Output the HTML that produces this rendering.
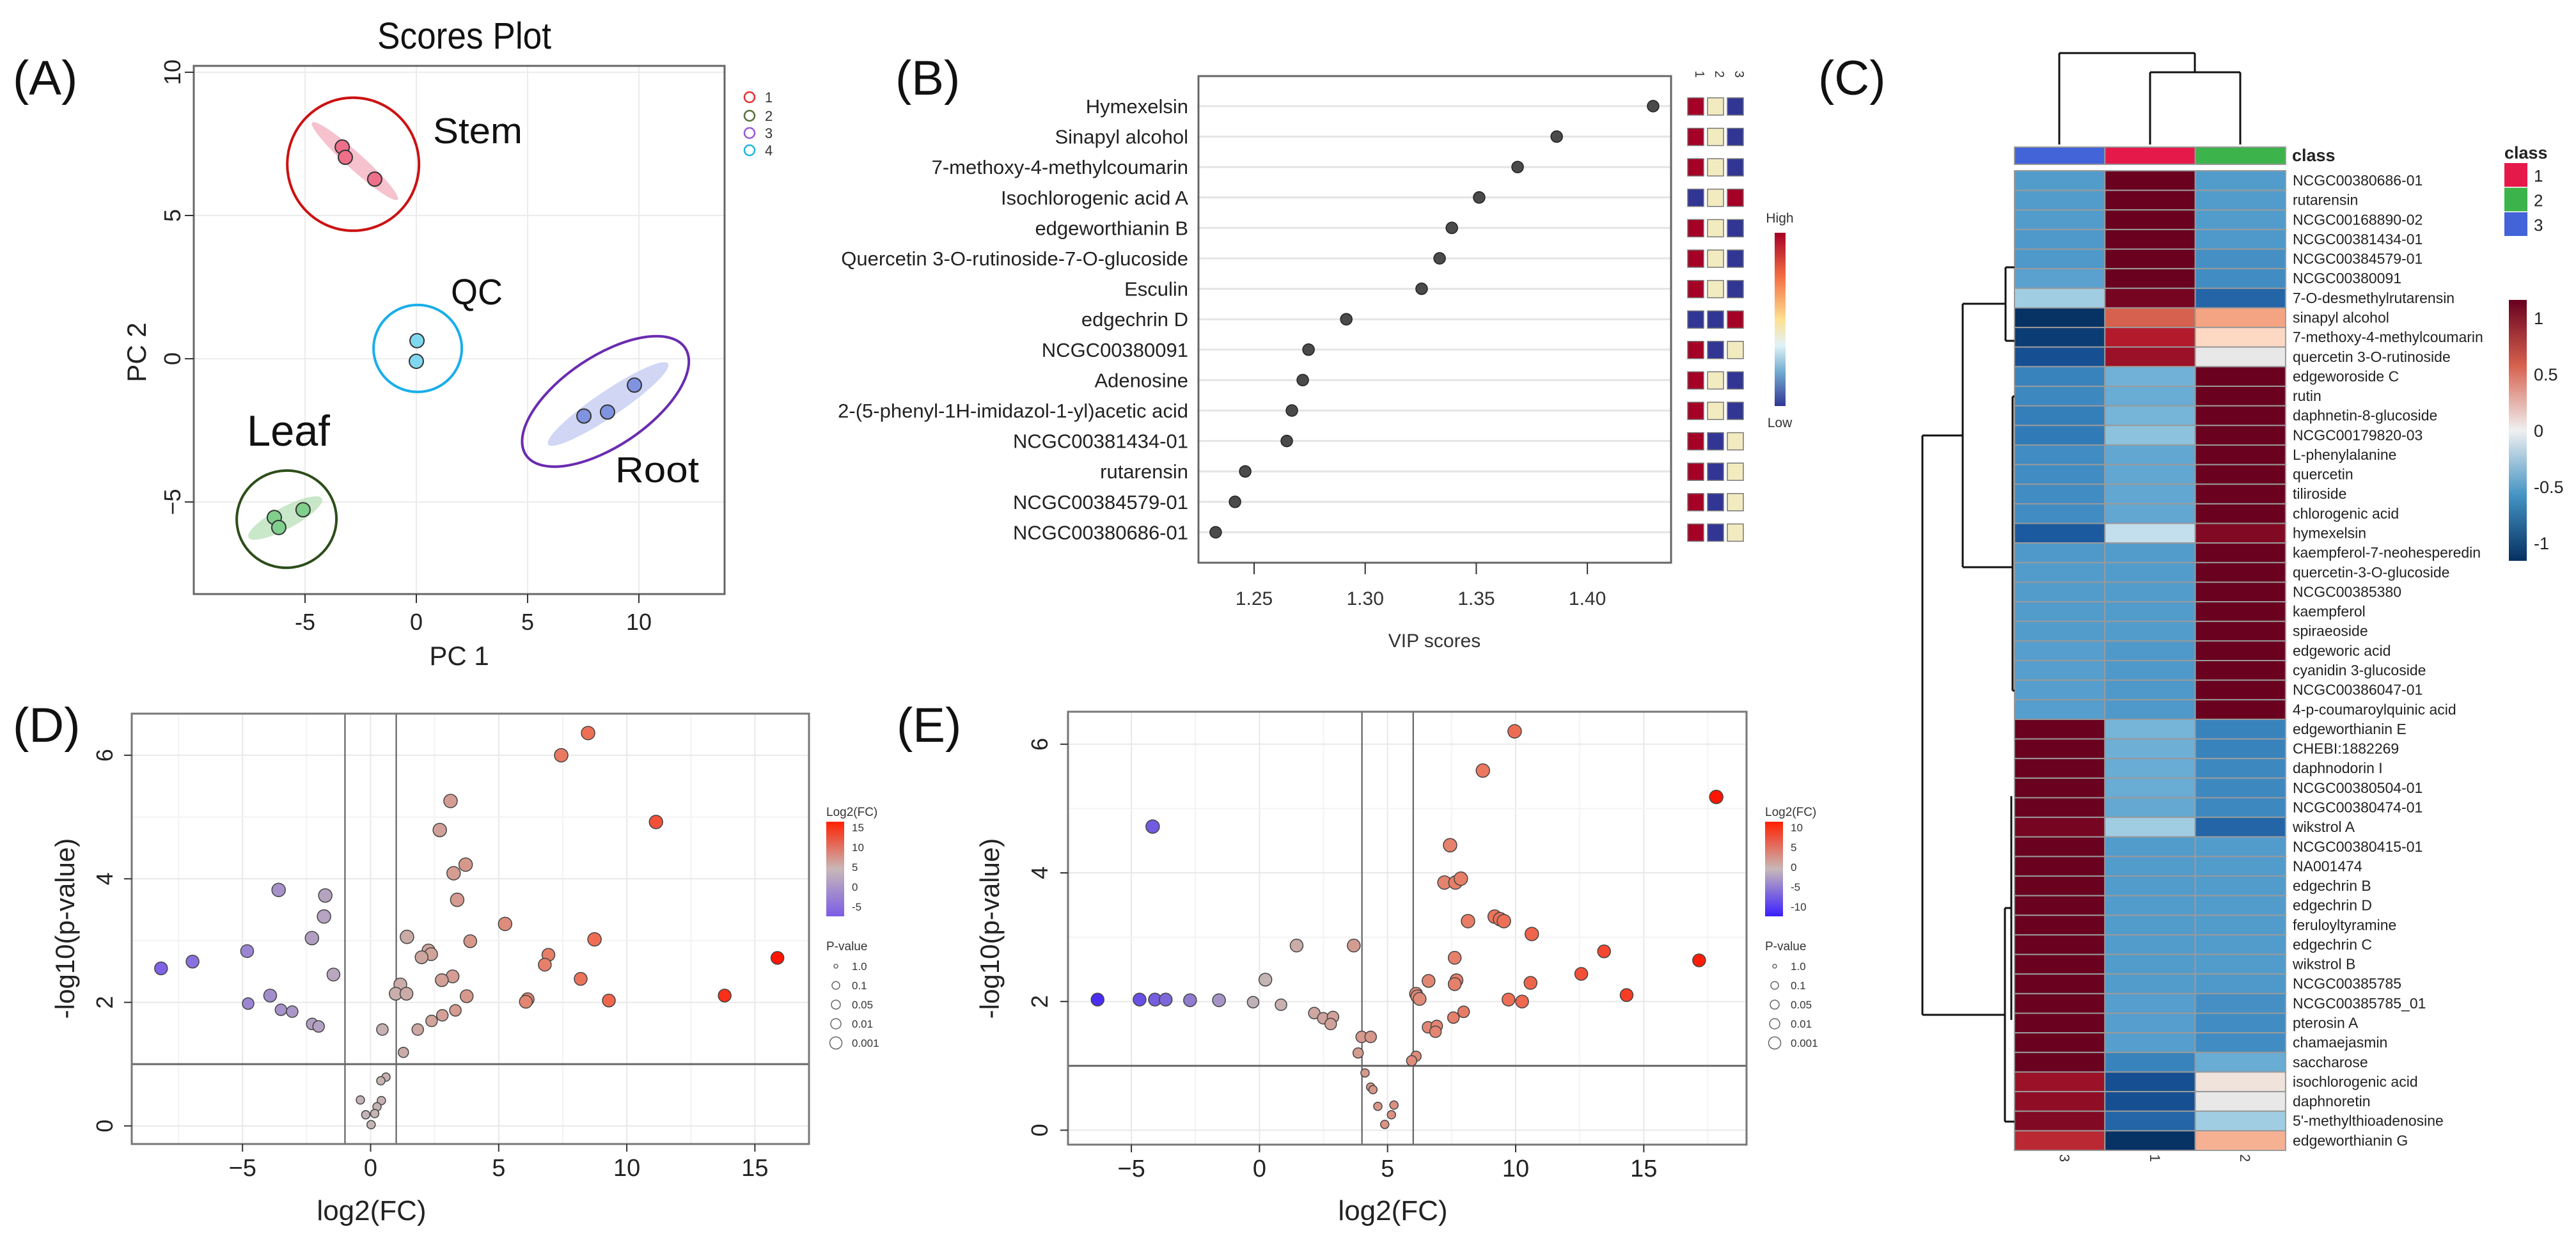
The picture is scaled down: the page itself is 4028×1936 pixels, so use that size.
<!DOCTYPE html>
<html><head><meta charset="utf-8"><style>
html,body{margin:0;padding:0;background:#fff;}
svg{display:block;font-family:"Liberation Sans Narrow","Liberation Sans",sans-serif;}
</style></head><body>
<svg id="fig" xmlns="http://www.w3.org/2000/svg" width="4028" height="1936" viewBox="0 0 4028 1936">
<defs>
<linearGradient id="gB" x1="0" y1="0" x2="0" y2="1"><stop offset="0" stop-color="#a50026"/><stop offset="0.25" stop-color="#f46d43"/><stop offset="0.5" stop-color="#fee090"/><stop offset="0.65" stop-color="#e0f3f8"/><stop offset="0.8" stop-color="#74add1"/><stop offset="1" stop-color="#313695"/></linearGradient>
<linearGradient id="gC" x1="0" y1="0" x2="0" y2="1"><stop offset="0" stop-color="#67001f"/><stop offset="0.25" stop-color="#d6604d"/><stop offset="0.5" stop-color="#f0f0f0"/><stop offset="0.75" stop-color="#4393c3"/><stop offset="1" stop-color="#053061"/></linearGradient>
<linearGradient id="gD" x1="0" y1="0" x2="0" y2="1"><stop offset="0" stop-color="#ff2000"/><stop offset="0.5" stop-color="#c8b8b8"/><stop offset="1" stop-color="#7b5ce6"/></linearGradient>
<linearGradient id="gE" x1="0" y1="0" x2="0" y2="1"><stop offset="0" stop-color="#ff2000"/><stop offset="0.5" stop-color="#c8b8b8"/><stop offset="1" stop-color="#3a1fff"/></linearGradient>
</defs>
</svg>
<script>
// ---------- DATA ----------
const pcaX = [-3.33,-3.19,-1.87, 0.03,0.0, 7.53,8.59,9.8, -6.38,-6.18,-5.09];
const pcaY = [7.39,7.03,6.27, 0.63,-0.09, -2.0,-1.86,-0.92, -5.54,-5.89,-5.27];
const pcaGroup = [0,0,0,1,1,2,2,2,3,3,3];
const groupNames = ["Stem","QC","Root","Leaf"];
const ellCX = [-2.84,0.06,8.5,-5.83];
const ellCY = [6.79,0.36,-1.49,-5.6];
const shadeCX = [-2.76,null,8.62,-5.89];
const shadeCY = [6.9,null,-1.58,-5.56];
const pcaXTicks = [-5,0,5,10];
const pcaYTicks = [-5,0,5,10];

const vipNames = ["Hymexelsin","Sinapyl alcohol","7-methoxy-4-methylcoumarin","Isochlorogenic acid A","edgeworthianin B","Quercetin 3-O-rutinoside-7-O-glucoside","Esculin","edgechrin D","NCGC00380091","Adenosine","2-(5-phenyl-1H-imidazol-1-yl)acetic acid","NCGC00381434-01","rutarensin","NCGC00384579-01","NCGC00380686-01"];
const vipScores = [1.4296,1.3862,1.3686,1.3513,1.339,1.3335,1.3254,1.2915,1.2745,1.2719,1.267,1.2647,1.246,1.2414,1.2327];
const vipHeat = ["RYB","RYB","RYB","BYR","RYB","RYB","RYB","BBR","RBY","RYB","RYB","RBY","RBY","RBY","RBY"];
const vipTicks = [1.25,1.30,1.35,1.40];
const vipTickLabels = ["1.25","1.30","1.35","1.40"];

const hmRows = ["NCGC00380686-01","rutarensin","NCGC00168890-02","NCGC00381434-01","NCGC00384579-01","NCGC00380091","7-O-desmethylrutarensin","sinapyl alcohol","7-methoxy-4-methylcoumarin","quercetin 3-O-rutinoside","edgeworoside C","rutin","daphnetin-8-glucoside","NCGC00179820-03","L-phenylalanine","quercetin","tiliroside","chlorogenic acid","hymexelsin","kaempferol-7-neohesperedin","quercetin-3-O-glucoside","NCGC00385380","kaempferol","spiraeoside","edgeworic acid","cyanidin 3-glucoside","NCGC00386047-01","4-p-coumaroylquinic acid","edgeworthianin E","CHEBI:1882269","daphnodorin I","NCGC00380504-01","NCGC00380474-01","wikstrol A","NCGC00380415-01","NA001474","edgechrin B","edgechrin D","feruloyltyramine","edgechrin C","wikstrol B","NCGC00385785","NCGC00385785_01","pterosin A","chamaejasmin","saccharose","isochlorogenic acid","daphnoretin","5'-methylthioadenosine","edgeworthianin G"];
const hmCol3 = [-0.6,-0.6,-0.6,-0.62,-0.62,-0.55,-0.2,-1.15,-1.1,-1.0,-0.75,-0.72,-0.78,-0.8,-0.7,-0.7,-0.7,-0.7,-0.95,-0.62,-0.6,-0.6,-0.6,-0.6,-0.58,-0.58,-0.58,-0.58,1.15,1.15,1.15,1.15,1.15,1.1,1.15,1.15,1.15,1.15,1.15,1.15,1.15,1.15,1.15,1.15,1.15,1.15,0.95,1.0,1.05,0.8];
const hmCol1 = [1.15,1.15,1.15,1.15,1.15,1.15,1.1,0.6,0.85,0.95,-0.4,-0.45,-0.38,-0.28,-0.5,-0.5,-0.5,-0.5,-0.1,-0.6,-0.6,-0.6,-0.6,-0.6,-0.62,-0.62,-0.62,-0.62,-0.38,-0.42,-0.45,-0.45,-0.48,-0.2,-0.6,-0.6,-0.6,-0.6,-0.6,-0.6,-0.6,-0.6,-0.58,-0.58,-0.58,-0.75,-1.0,-1.0,-0.9,-1.15];
const hmCol2 = [-0.6,-0.6,-0.6,-0.62,-0.68,-0.7,-0.9,0.35,0.15,0.0,1.15,1.15,1.15,1.15,1.15,1.15,1.15,1.15,1.05,1.15,1.15,1.15,1.15,1.15,1.15,1.15,1.15,1.15,-0.75,-0.75,-0.72,-0.72,-0.72,-0.9,-0.6,-0.6,-0.6,-0.6,-0.6,-0.6,-0.6,-0.62,-0.68,-0.7,-0.7,-0.45,0.05,0.0,-0.2,0.3];
const hmColNames = ["3","1","2"];
const hmClassColors = ["#4363d8","#e6194b","#3cb44b"];
const hmLegendTicks = [1,0.5,0,-0.5,-1];
const hmLegendLabels = ["1","0.5","0","-0.5","-1"];

const dX = [8.49,7.44,3.12,11.14,2.70,3.71,3.24,3.38,-3.59,-1.77,-1.82,5.25,-2.29,1.42,3.89,8.74,-4.82,2.26,2.36,1.99,6.94,-6.95,15.88,-8.18,6.80,-1.45,3.20,2.78,8.20,1.16,0.98,1.40,3.75,-3.92,13.82,6.13,6.06,9.30,-4.78,-3.50,-3.06,3.31,2.80,2.38,-2.28,-2.03,0.46,1.84,1.28,0.60,0.40,-0.40,0.42,0.25,-0.19,0.16,0.02];
const dY = [6.36,6.00,5.26,4.92,4.79,4.23,4.09,3.66,3.82,3.73,3.39,3.27,3.04,3.06,2.99,3.02,2.83,2.84,2.78,2.73,2.77,2.66,2.72,2.55,2.61,2.45,2.42,2.36,2.38,2.29,2.14,2.14,2.10,2.11,2.11,2.05,2.01,2.03,1.98,1.88,1.85,1.87,1.79,1.70,1.65,1.61,1.56,1.56,1.19,0.79,0.73,0.42,0.41,0.31,0.18,0.20,0.02];
const eX = [9.96,8.72,17.83,-4.17,7.44,7.22,7.65,7.86,8.14,9.18,9.39,9.54,10.63,1.45,3.68,13.45,7.62,17.16,12.56,0.23,6.60,7.69,7.62,10.58,14.33,-6.32,-4.68,-4.08,-3.66,-2.71,-1.58,-0.25,0.84,6.11,6.16,6.25,9.72,10.25,2.14,2.49,2.87,2.78,7.97,7.57,6.58,6.92,6.87,3.99,4.34,3.85,6.11,5.94,4.12,4.34,4.43,4.62,5.25,5.15,4.89];
const eY = [6.20,5.59,5.18,4.72,4.43,3.85,3.85,3.91,3.25,3.32,3.28,3.25,3.05,2.87,2.87,2.78,2.68,2.64,2.43,2.34,2.32,2.33,2.27,2.29,2.10,2.03,2.03,2.03,2.03,2.02,2.02,1.99,1.95,2.12,2.08,2.04,2.03,2.00,1.82,1.74,1.76,1.65,1.84,1.75,1.60,1.62,1.53,1.45,1.45,1.20,1.15,1.08,0.89,0.67,0.63,0.37,0.39,0.24,0.09];
const volXTicks = [-5,0,5,10,15];
const volYTicks = [0,2,4,6];
const dLegendTicks = ["15","10","5","0","-5"];
const eLegendTicks = ["10","5","0","-5","-10"];
const pLegend = ["1.0","0.1","0.05","0.01","0.001"];

// ---------- HELPERS ----------
const NS = "http://www.w3.org/2000/svg";
const svg = document.getElementById('fig');
function mk(tag, attrs, parent){ const e=document.createElementNS(NS,tag); for(const k in attrs) e.setAttribute(k,attrs[k]); (parent||svg).appendChild(e); return e; }
function tx(str, attrs, parent){ const e=mk('text',attrs,parent); e.textContent=str; return e; }
function lerp(a,b,t){return a+(b-a)*t;}
function rgb(c){return "rgb("+c.map(v=>Math.round(v)).join(",")+")";}
function mix(stops, t){
  t=Math.max(0,Math.min(1,t));
  for(let i=0;i<stops.length-1;i++){ const a=stops[i],b=stops[i+1];
    if(t<=b[0]){ const u=(t-a[0])/(b[0]-a[0]); return rgb([0,1,2].map(k=>lerp(a[1][k],b[1][k],u))); } }
  return rgb(stops[stops.length-1][1]);
}
const hmStops = [[0,[5,48,97]],[0.08,[25,85,155]],[0.16,[50,125,185]],[0.24,[82,156,204]],[0.32,[110,175,214]],[0.4,[150,200,224]],[0.47,[205,227,240]],[0.5,[232,232,232]],[0.56,[253,219,199]],[0.65,[244,165,130]],[0.76,[214,96,77]],[0.87,[178,24,43]],[1,[103,0,31]]];
function hmColor(v){ return mix(hmStops,(v+1.16)/2.32); }
function volColor(v, negMax, posMax, negC){
  if(v>=0) return mix([[0,[196,182,182]],[0.5,[236,118,92]],[1,[255,20,0]]], v/posMax);
  return mix([[0,[196,182,182]],[1,negC]], -v/negMax);
}
function volR(y){ if(y>=3) return 10.5; if(y>=2) return 10; if(y>=1.3) return 9; if(y>=1) return 8; return 6.5; }

// ---------- PANEL LABELS ----------
const panelLabels = [["(A)",20,148],["(B)",1400,148],["(C)",2843,148],["(D)",20,1160],["(E)",1402,1160]];
panelLabels.forEach(p=>{
  const t=tx(p[0],{x:p[1],y:p[2],'font-size':76,fill:'#111','font-family':'Liberation Sans, sans-serif'});
  
  
});

// ---------- PANEL A ----------
const ax = v => 651 + v*34.8;
const ay = v => 561 - v*44.8;
const gA = mk('g',{});


const tA = tx("Scores Plot",{x:726,y:76,'text-anchor':'middle','font-size':58,fill:'#111',textLength:272,lengthAdjust:'spacingAndGlyphs'},gA);


pcaXTicks.forEach(v=>{ const l=mk('line',{x1:ax(v),x2:ax(v),y1:103,y2:929,stroke:'#ececec','stroke-width':2},gA);   });
pcaYTicks.forEach(v=>{ const l=mk('line',{x1:303,x2:1133,y1:ay(v),y2:ay(v),stroke:'#ececec','stroke-width':2},gA);   });
const ellStroke=["#cc1111","#19aeea","#6a2bb0","#2d4d1a"];
const ellRX=[103,69,150,78], ellRY=[104,68,70,76], ellRot=[0,0,-34,-8];
const shadeFill=["#f3b7c5",null,"#c8cff2","#bfe3c0"], shadeRX=[90,0,113,65], shadeRY=[13,0,20,17], shadeRot=[42,0,-34,-28];
const ptFill=["#ee6f8a","#7fd8ef","#8093e0","#80cf8c"];
for(let g=0; g<4; g++){
  if(shadeCX[g]!==null){
    const s=mk('ellipse',{cx:ax(shadeCX[g]),cy:ay(shadeCY[g]),rx:shadeRX[g],ry:shadeRY[g],fill:shadeFill[g],opacity:0.85,transform:`rotate(${shadeRot[g]} ${ax(shadeCX[g])} ${ay(shadeCY[g])})`},gA);
    
    
  }
  const e=mk('ellipse',{cx:ax(ellCX[g]),cy:ay(ellCY[g]),rx:ellRX[g],ry:ellRY[g],fill:'none',stroke:ellStroke[g],'stroke-width':4,transform:`rotate(${ellRot[g]} ${ax(ellCX[g])} ${ay(ellCY[g])})`},gA);
  
  
}
pcaX.forEach((v,i)=>{
  const c=mk('circle',{cx:ax(v),cy:ay(pcaY[i]),r:11,fill:ptFill[pcaGroup[i]],stroke:'#333','stroke-width':2},gA);
  
  
});
const grpLabels=[["Stem",677,224,57,140],["QC",705,476,57,81],["Leaf",386,697,68,130],["Root",962,754,57,131]];
grpLabels.forEach(g=>{ const t=tx(g[0],{x:g[1],y:g[2],'font-size':g[3],fill:'#111',textLength:g[4],lengthAdjust:'spacingAndGlyphs'},gA);   });
const fA=mk('rect',{x:303,y:103,width:830,height:826,fill:'none',stroke:'#666','stroke-width':3},gA);


pcaXTicks.forEach(v=>{
  const l=mk('line',{x1:ax(v),x2:ax(v),y1:929,y2:943,stroke:'#333','stroke-width':2},gA);  
  const t=tx(String(v),{x:ax(v),y:985,'text-anchor':'middle','font-size':36,fill:'#222'},gA);  
});
pcaYTicks.forEach(v=>{
  const l=mk('line',{x1:289,x2:303,y1:ay(v),y2:ay(v),stroke:'#333','stroke-width':2},gA);  
  const t=tx(v<0?"\u2212"+(-v):String(v),{x:282,y:ay(v),'text-anchor':'middle','font-size':36,fill:'#222',transform:`rotate(-90 282 ${ay(v)})`},gA);  
});
const xA=tx("PC 1",{x:718,y:1040,'text-anchor':'middle','font-size':42,fill:'#222'},gA);  
const yA=tx("PC 2",{x:228,y:551,'text-anchor':'middle','font-size':42,fill:'#222',transform:'rotate(-90 228 551)'},gA);  
const legCol=["#e0302f","#55703a","#9b59d0","#1eb4e6"], legY=[152,181,208,235];
["1","2","3","4"].forEach((s,i)=>{
  const c=mk('circle',{cx:1172,cy:legY[i],r:8,fill:'none',stroke:legCol[i],'stroke-width':2.5},gA);  
  const t=tx(s,{x:1196,y:legY[i]+8,'font-size':22,fill:'#333'},gA);  
});

// ---------- PANEL B ----------
const bx = v => 1961 + (v-1.25)*3474;
const by = i => 166 + i*47.6;
const gB = mk('g',{});


vipNames.forEach((n,i)=>{
  const l=mk('line',{x1:1874,x2:2613,y1:by(i),y2:by(i),stroke:'#e4e4e4','stroke-width':3},gB);  
  const t=tx(n,{x:1858,y:by(i)+11,'text-anchor':'end','font-size':31,fill:'#222'},gB);  
  const c=mk('circle',{cx:bx(vipScores[i]),cy:by(i),r:9,fill:'#4a4a4a',stroke:'#222','stroke-width':1.5},gB);  
  const cols={R:'#a50026',Y:'#f3ebc0',B:'#313695'};
  for(let j=0;j<3;j++){ const r=mk('rect',{x:2639+j*31,y:by(i)-13,width:25,height:27,fill:cols[vipHeat[i][j]],stroke:'#777','stroke-width':1.5},gB);   }
});
["1","2","3"].forEach((s,j)=>{ const t=tx(s,{x:2651+j*31,y:116,'text-anchor':'middle','font-size':20,fill:'#333',transform:`rotate(90 ${2651+j*31} 116)`},gB);   });
const fB=mk('rect',{x:1874,y:119,width:739,height:761,fill:'none',stroke:'#666','stroke-width':3},gB);


vipTicks.forEach((v,i)=>{
  const l=mk('line',{x1:bx(v),x2:bx(v),y1:880,y2:898,stroke:'#333','stroke-width':2},gB);  
  const t=tx(vipTickLabels[i],{x:bx(v),y:946,'text-anchor':'middle','font-size':30,fill:'#333'},gB);  
});
const xB=tx("VIP scores",{x:2243,y:1012,'text-anchor':'middle','font-size':30,fill:'#333'},gB);  
const cbB=mk('rect',{x:2775,y:364,width:17,height:271,fill:'url(#gB)'},gB);  
const hi=tx("High",{x:2783,y:348,'text-anchor':'middle','font-size':21,fill:'#333'},gB);  
const lo=tx("Low",{x:2783,y:668,'text-anchor':'middle','font-size':21,fill:'#333'},gB);  

// ---------- PANEL C (heatmap) ----------
const hx = j => 3150 + j*141.3;
const hy = i => 267 + i*30.64;
const gC = mk('g',{});


const cols=[hmCol3,hmCol1,hmCol2];
hmRows.forEach((n,i)=>{
  for(let j=0;j<3;j++){ const r=mk('rect',{x:hx(j),y:hy(i),width:141.3,height:30.64,fill:hmColor(cols[j][i]),stroke:'#9a9a9a','stroke-width':2},gC);   }
  const t=tx(n,{x:3585,y:hy(i)+23,'font-size':23,fill:'#222'},gC);  
});
hmClassColors.forEach((c,j)=>{ const r=mk('rect',{x:hx(j),y:230,width:141.3,height:27,fill:c,stroke:'#9a9a9a','stroke-width':2},gC);   });
const cl=tx("class",{x:3584,y:252,'font-size':27,'font-weight':'bold',fill:'#222'},gC);  
hmColNames.forEach((s,j)=>{ const x=hx(j)+70.6; const t=tx(s,{x:x,y:1811,'text-anchor':'middle','font-size':22,fill:'#333',transform:`rotate(90 ${x} 1811)`},gC);   });
const dendro = [
 [3220,226,3220,83],[3220,83,3432,83],[3432,83,3432,113],[3362,113,3503,113],[3362,113,3362,226],[3503,113,3503,226],
 [3006,681,3006,1587],[3006,681,3069,681],[3069,475,3069,887],[3069,475,3136,475],[3136,418,3136,533],[3136,418,3150,418],[3136,533,3150,533],
 [3069,887,3147,887],[3147,620,3147,1080],[3147,620,3150,620],[3147,1080,3150,1080],
 [3006,1587,3135,1587],[3135,1420,3135,1754],[3135,1420,3145,1420],[3145,1245,3145,1595],[3135,1754,3150,1754]
];
dendro.forEach(s=>{ const l=mk('line',{x1:s[0],y1:s[1],x2:s[2],y2:s[3],stroke:'#111','stroke-width':3},gC);   });
const lc=tx("class",{x:3916,y:248,'font-size':27,'font-weight':'bold',fill:'#222'},gC);  
[["1","#e6194b"],["2","#3cb44b"],["3","#4363d8"]].forEach((s,i)=>{
  const r=mk('rect',{x:3916,y:255+i*38.5,width:36,height:37,fill:s[1]},gC);  
  const t=tx(s[0],{x:3962,y:284+i*38.5,'font-size':26,fill:'#222'},gC);  
});
const cbC=mk('rect',{x:3923,y:469,width:28,height:408,fill:'url(#gC)'},gC);  
hmLegendTicks.forEach((v,i)=>{ const t=tx(hmLegendLabels[i],{x:3962,y:673-v*176+10,'font-size':27,fill:'#222'},gC);   });

// ---------- VOLCANO PLOTS ----------
function volcano(name, X, Y, L, R, T, B, x0, xs, y0, ys, xmin, xmax, ymin, ymax, vlines, negMax, posMax, negC, legX, legTicks, grad, ytX, ytitleX, xtitleX){
  const fx=v=>x0+v*xs, fy=v=>y0-v*ys;
  const g=mk('g',{});
  
  
  for(let v=Math.ceil(xmin/2.5)*2.5; v<=xmax; v+=2.5){ const major=Math.abs(v%5)<1e-6; const l=mk('line',{x1:fx(v),x2:fx(v),y1:T,y2:B,stroke:major?'#e8e8e8':'#f3f3f3','stroke-width':2},g);   }
  for(let v=Math.ceil(ymin); v<=ymax; v+=1){ const major=v%2===0; const l=mk('line',{x1:L,x2:R,y1:fy(v),y2:fy(v),stroke:major?'#e8e8e8':'#f3f3f3','stroke-width':2},g);   }
  vlines.forEach(v=>{ const l=mk('line',{x1:fx(v),x2:fx(v),y1:T,y2:B,stroke:'#555','stroke-width':2},g);   });
  const h=mk('line',{x1:L,x2:R,y1:fy(1),y2:fy(1),stroke:'#666','stroke-width':3},g);  
  X.forEach((v,i)=>{ const c=mk('circle',{cx:fx(v),cy:fy(Y[i]),r:volR(Y[i]),fill:volColor(v,negMax,posMax,negC),stroke:'#444','stroke-width':1.5},g);   });
  const f=mk('rect',{x:L,y:T,width:R-L,height:B-T,fill:'none',stroke:'#777','stroke-width':3},g);  
  volXTicks.forEach(v=>{
    const l=mk('line',{x1:fx(v),x2:fx(v),y1:B,y2:B+12,stroke:'#333','stroke-width':2},g);  
    const t=tx(v<0?"\u2212"+(-v):String(v),{x:fx(v),y:B+50,'text-anchor':'middle','font-size':38,fill:'#222'},g);  
  });
  volYTicks.forEach(v=>{
    const l=mk('line',{x1:L-12,x2:L,y1:fy(v),y2:fy(v),stroke:'#333','stroke-width':2},g);  
    const t=tx(String(v),{x:ytX,y:fy(v),'text-anchor':'middle','font-size':36,fill:'#222',transform:`rotate(-90 ${ytX} ${fy(v)})`},g);  
  });
  const xt=tx("log2(FC)",{x:xtitleX,y:1908,'text-anchor':'middle','font-size':44,fill:'#222'},g);  
  const yt=tx("-log10(p-value)",{x:ytitleX,y:1452,'text-anchor':'middle','font-size':42,fill:'#222',transform:`rotate(-90 ${ytitleX} 1452)`},g);  
  const lt=tx("Log2(FC)",{x:legX,y:1276,'font-size':19,fill:'#333'},g);  
  const cb=mk('rect',{x:legX,y:1285,width:28,height:148,fill:grad},g);  
  legTicks.forEach((s,i)=>{ const t=tx(s,{x:legX+40,y:1300+i*31,'font-size':17,fill:'#333'},g);   });
  const pt=tx("P-value",{x:legX,y:1486,'font-size':19,fill:'#333'},g);  
  const pr=[3,6,7,8,9.5];
  pLegend.forEach((s,i)=>{
    const c=mk('circle',{cx:legX+15,cy:1511+i*30,r:pr[i],fill:'none',stroke:'#666','stroke-width':1.5},g);  
    const t=tx(s,{x:legX+40,y:1517+i*30,'font-size':17,fill:'#333'},g);  
  });
}
volcano('volcano-plot-d', dX, dY, 206,1265,1116,1789, 579.5,40.06,1760.7,96.6, -9.4,17.1,-0.3,6.6, [-1,1], 9,16,[120,90,235], 1292, dLegendTicks,'url(#gD)', 176, 116, 581);
volcano('volcano-plot-e', eX, eY, 1670,2731,1113,1790, 1969.4,40.06,1767.4,100.6, -7.5,18.9,-0.2,6.5, [4,6], 7,18,[60,30,250], 2760, eLegendTicks,'url(#gE)', 1638, 1562, 2178);
</script>
</body></html>
